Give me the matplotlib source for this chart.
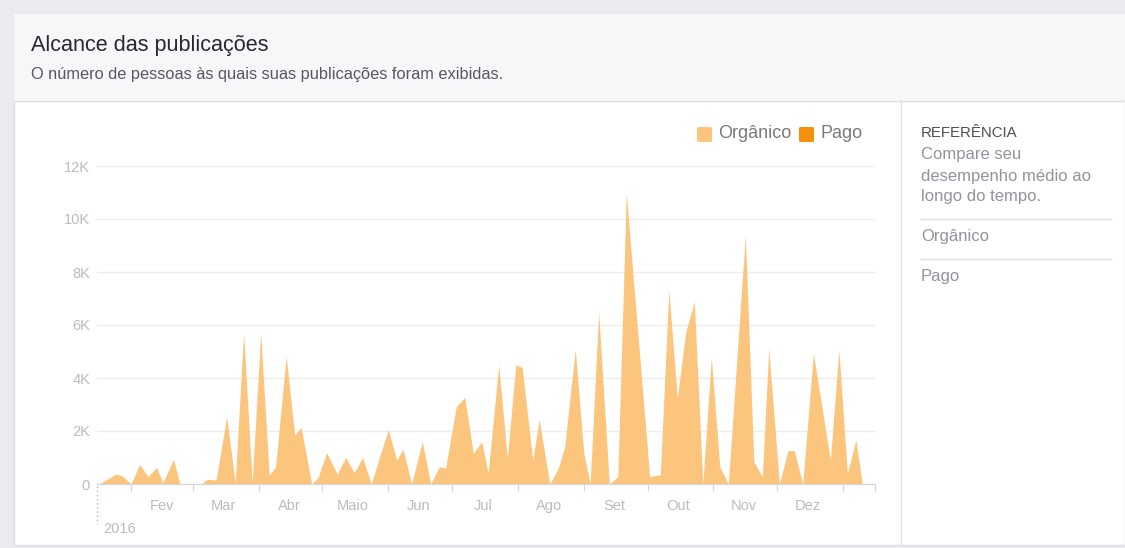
import matplotlib
matplotlib.use("Agg")
import matplotlib.pyplot as plt
import matplotlib.dates as mdates
from matplotlib.patches import Rectangle, FancyBboxPatch
from matplotlib.lines import Line2D
from matplotlib.ticker import FixedLocator, FixedFormatter, NullFormatter
import pandas as pd

# vertices of the "Orgânico" area (date, reach)
datas = [
    "2016-01-17", "2016-01-25", "2016-01-28", "2016-02-01", "2016-02-05", "2016-02-09",
    "2016-02-13", "2016-02-16", "2016-02-21", "2016-02-24", "2016-03-05", "2016-03-08",
    "2016-03-12", "2016-03-17", "2016-03-21", "2016-03-25", "2016-03-29", "2016-04-02",
    "2016-04-06", "2016-04-09", "2016-04-14", "2016-04-18", "2016-04-21", "2016-04-26",
    "2016-04-29", "2016-05-03", "2016-05-08", "2016-05-12", "2016-05-16", "2016-05-20",
    "2016-05-24", "2016-06-01", "2016-06-05", "2016-06-08", "2016-06-12", "2016-06-17",
    "2016-06-21", "2016-06-25", "2016-06-28", "2016-07-03", "2016-07-07", "2016-07-11",
    "2016-07-15", "2016-07-18", "2016-07-23", "2016-07-27", "2016-07-31", "2016-08-03",
    "2016-08-08", "2016-08-11", "2016-08-16", "2016-08-20", "2016-08-23", "2016-08-28",
    "2016-09-01", "2016-09-04", "2016-09-08", "2016-09-13", "2016-09-17", "2016-09-21",
    "2016-10-02", "2016-10-07", "2016-10-11", "2016-10-15", "2016-10-19", "2016-10-23",
    "2016-10-27", "2016-10-31", "2016-11-04", "2016-11-08", "2016-11-16", "2016-11-20",
    "2016-11-24", "2016-11-27", "2016-12-02", "2016-12-06", "2016-12-09", "2016-12-13",
    "2016-12-18", "2016-12-26", "2016-12-30", "2017-01-03", "2017-01-07", "2017-01-10",
]
organico = [
    0, 380, 300, 0, 740, 280,
    630, 50, 930, 0, 0, 180,
    150, 2540, 50, 5710, 50, 5700,
    340, 650, 4830, 1850, 2140, 0,
    250, 1180, 380, 1000, 430, 1000,
    0, 2060, 900, 1310, 0, 1600,
    0, 650, 600, 2920, 3270, 1160,
    1600, 400, 4490, 970, 4490, 4400,
    900, 2440, 0, 600, 1400, 5080,
    1160, 0, 6500, 0, 280, 10970,
    280, 350, 7320, 3230, 5750, 6880,
    0, 4800, 650, 0, 9400, 840,
    280, 5120, 0, 1260, 1260, 0,
    4930, 900, 5060, 400, 1660, 0,
]
meses = ["Fev", "Mar", "Abr", "Maio", "Jun", "Jul", "Ago", "Set", "Out", "Nov", "Dez"]
y_ticks = [0, 2000, 4000, 6000, 8000, 10000, 12000]
y_labels = ["0", "2K", "4K", "6K", "8K", "10K", "12K"]

W, H = 1125, 548
def fx(x):
    return x / W
def fy(y):
    return 1 - y / H

plt.rcParams["font.family"] = ["Liberation Sans", "DejaVu Sans"]
fig = plt.figure(figsize=(W / 100, H / 100), dpi=100, facecolor="#e9ebee")

# panel background (kept behind the axes)
fig.add_artist(Rectangle((fx(14), fy(545)), fx(1125) - fx(14), fy(14) - fy(545),
                         transform=fig.transFigure, facecolor="white",
                         edgecolor="#dddfe2", lw=1, zorder=-10))
fig.add_artist(Rectangle((fx(14), fy(101)), fx(1125) - fx(14), fy(14) - fy(101),
                         transform=fig.transFigure, facecolor="#f6f7f9", lw=0, zorder=-9))
fig.add_artist(Line2D([fx(14), fx(1125)], [fy(101), fy(101)], color="#dddfe2", lw=1))
fig.add_artist(Line2D([fx(901), fx(901)], [fy(101), fy(545)], color="#dddfe2", lw=1))

fig.text(fx(31), fy(46), "Alcance das publicações", fontsize=15.6, color="#262a30",
         va="center", ha="left")
fig.text(fx(31), fy(75), "O número de pessoas às quais suas publicações foram exibidas.",
         fontsize=11.8, color="#555960", va="center", ha="left")

# chart
ax = fig.add_axes([fx(97), fy(484), fx(875) - fx(97), fy(166) - fy(484)])
ax.set_zorder(5)
ax.patch.set_alpha(0)
x = pd.to_datetime(datas)
ax.fill_between(x, 0, organico, color="#fcc57e", lw=0, zorder=2)

ax.set_xlim(pd.Timestamp("2016-01-16"), pd.Timestamp("2017-01-16"))
ax.set_ylim(0, 12000)
for s in ["top", "right", "left"]:
    ax.spines[s].set_visible(False)
ax.spines["bottom"].set_color("#d5d5d5")

ax.set_yticks(y_ticks)
ax.set_yticklabels(y_labels)
ax.yaxis.grid(True, color="#ededed", lw=1, zorder=0)
ax.set_axisbelow(True)
ax.tick_params(axis="y", length=0, pad=5, labelcolor="#bcbcbc", labelsize=10.5)

inicio_mes = pd.date_range("2016-02-01", "2017-01-01", freq="MS")
meio_mes = [d + pd.Timedelta(days=14.5) for d in inicio_mes[:-1]]
ax.xaxis.set_major_locator(FixedLocator(mdates.date2num(list(inicio_mes) + [pd.Timestamp("2017-01-16")])))
ax.xaxis.set_major_formatter(NullFormatter())
ax.xaxis.set_minor_locator(FixedLocator(mdates.date2num(meio_mes)))
ax.xaxis.set_minor_formatter(FixedFormatter(meses))
ax.tick_params(axis="x", which="major", length=5, color="#d5d5d5", direction="out")
ax.tick_params(axis="x", which="minor", length=0, pad=11, labelcolor="#bcbcbc", labelsize=10.5)

# year marker
fig.add_artist(Line2D([fx(97), fx(97)], [fy(486), fy(524)], color="#b4b4b4", lw=1,
                      linestyle=(0, (1, 2))))
fig.text(fx(103), fy(529), "2016", fontsize=10.5, color="#bcbcbc", va="center", ha="left")

# legend
fig.add_artist(FancyBboxPatch((fx(697), fy(142)), fx(15), fy(127) - fy(142),
                              boxstyle="round,pad=0,rounding_size=0.002",
                              transform=fig.transFigure, facecolor="#fcc57e", lw=0))
fig.text(fx(718), fy(134), "Orgânico", fontsize=13, color="#7a7a7a", va="center", ha="left")
fig.add_artist(FancyBboxPatch((fx(799), fy(142)), fx(15), fy(127) - fy(142),
                              boxstyle="round,pad=0,rounding_size=0.002",
                              transform=fig.transFigure, facecolor="#f4900c", lw=0))
fig.text(fx(820), fy(134), "Pago", fontsize=13, color="#7a7a7a", va="center", ha="left")

# right panel
fig.text(fx(921), fy(133), "REFERÊNCIA", fontsize=10.8, color="#4b4f56", va="center", ha="left")
for yy, t in [(155, "Compare seu"), (176, "desempenho médio ao"), (197, "longo do tempo.")]:
    fig.text(fx(921), fy(yy), t, fontsize=12, color="#90949c", va="center", ha="left")
fig.add_artist(Line2D([fx(921), fx(1111)], [fy(219), fy(219)], color="#dddfe2", lw=1))
fig.text(fx(921), fy(237), "Orgânico", fontsize=12, color="#90949c", va="center", ha="left")
fig.add_artist(Line2D([fx(921), fx(1111)], [fy(259), fy(259)], color="#dddfe2", lw=1))
fig.text(fx(921), fy(276), "Pago", fontsize=12, color="#90949c", va="center", ha="left")

fig.savefig("out.png", dpi=100, facecolor=fig.get_facecolor())
